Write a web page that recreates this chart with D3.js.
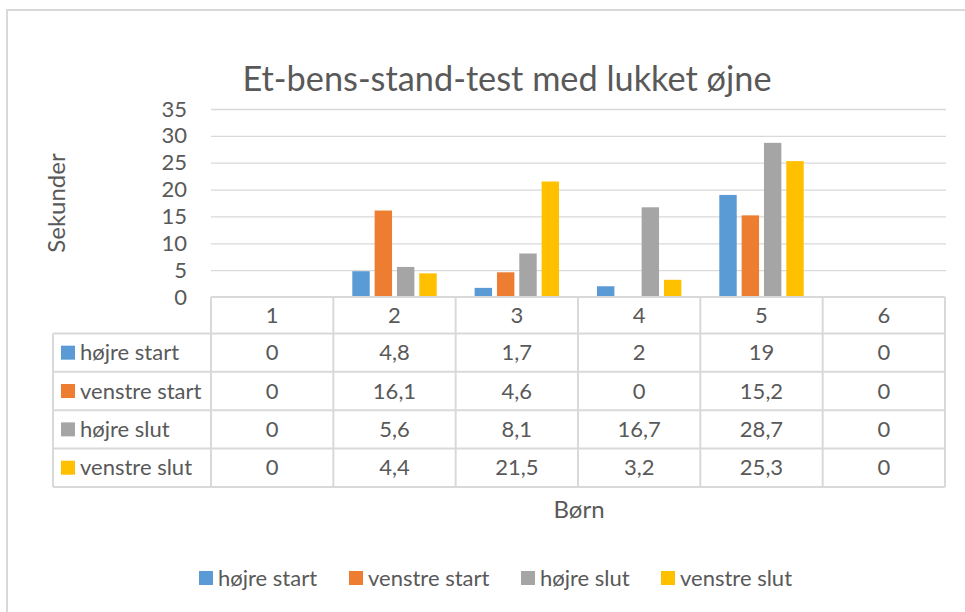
<!DOCTYPE html>
<html>
<head>
<meta charset="utf-8">
<script src="https://cdn.jsdelivr.net/npm/d3@7"></script>
<style>
  body { margin: 0; background: #fff; }
  svg text { font-family: Lato, "Open Sans", sans-serif; fill: #595959; }
</style>
</head>
<body>
<div id="chart"></div>
<script>
const categories = ["1", "2", "3", "4", "5", "6"];
const seriesNames = ["højre start", "venstre start", "højre slut", "venstre slut"];
const hojreStart = [0, 4.8, 1.7, 2, 19, 0];
const venstreStart = [0, 16.1, 4.6, 0, 15.2, 0];
const hojreSlut = [0, 5.6, 8.1, 16.7, 28.7, 0];
const venstreSlut = [0, 4.4, 21.5, 3.2, 25.3, 0];
const yTicks = [0, 5, 10, 15, 20, 25, 30, 35];
const colors = ["#5B9BD5", "#ED7D31", "#A5A5A5", "#FFC000"];

const series = [hojreStart, venstreStart, hojreSlut, venstreSlut].map((vals, i) => ({
  name: seriesNames[i],
  color: colors[i],
  values: vals
}));

const fmt = (n) => String(n).replace(".", ",");

const width = 965;
const height = 612;
const plot = { left: 211, right: 945, top: 109, bottom: 297 };
const headerH = 36.5;
const rowH = 38.35;
const tableLeft = 53;
const lineColor = "#d9d9d9";
const fs = 22;

const svg = d3.select("#chart").append("svg")
  .attr("width", width)
  .attr("height", height);

// chart border (cut off at right/bottom like the screenshot)
svg.append("rect")
  .attr("x", 7).attr("y", 10)
  .attr("width", 1100).attr("height", 800)
  .attr("fill", "none")
  .attr("stroke", lineColor)
  .attr("stroke-width", 2);

const x0 = d3.scaleBand()
  .domain(categories)
  .range([plot.left, plot.right])
  .paddingInner(0.31)
  .paddingOuter(0.155);

const cells = d3.scaleBand()
  .domain(categories)
  .range([plot.left, plot.right]);

const x1 = d3.scaleBand()
  .domain(seriesNames)
  .range([0, x0.bandwidth()])
  .paddingInner(0.22);

const y = d3.scaleLinear()
  .domain([0, 35])
  .range([plot.bottom, plot.top]);

// Gridlines
svg.append("g")
  .attr("transform", `translate(${plot.left},0)`)
  .call(d3.axisLeft(y).tickValues(yTicks.slice(1)).tickSize(-(plot.right - plot.left + 1)).tickFormat(""))
  .call(g => g.select(".domain").remove())
  .call(g => g.selectAll("line").attr("stroke", lineColor).attr("stroke-width", 1.3));

// Y tick labels
svg.append("g")
  .attr("transform", `translate(${plot.left},0)`)
  .call(d3.axisLeft(y).tickValues(yTicks).tickSize(0).tickPadding(24))
  .call(g => g.select(".domain").remove())
  .call(g => g.selectAll("text")
    .attr("font-size", fs)
    .attr("font-family", null)
    .attr("fill", null));

// Y title
svg.append("text")
  .attr("transform", `translate(65,203) rotate(-90)`)
  .attr("text-anchor", "middle")
  .attr("font-size", 24)
  .text("Sekunder");

// Title
svg.append("text")
  .attr("x", 507).attr("y", 91)
  .attr("text-anchor", "middle")
  .attr("font-size", 34.3)
  .text("Et-bens-stand-test med lukket øjne");

// Bars
const groups = svg.append("g")
  .selectAll("g")
  .data(series)
  .join("g")
  .attr("fill", d => d.color);

groups.selectAll("rect")
  .data(s => s.values.map((v, i) => ({ name: s.name, cat: categories[i], value: v })))
  .join("rect")
  .attr("x", d => x0(d.cat) + x1(d.name))
  .attr("width", x1.bandwidth())
  .attr("y", d => y(d.value))
  .attr("height", d => y(0) - y(d.value));

// Data table
const table = svg.append("g");
const tableTop = plot.bottom;
const rowsTop = tableTop + headerH;
const tableBottom = rowsTop + rowH * series.length;

table.append("g")
  .selectAll("text")
  .data(categories)
  .join("text")
  .attr("x", d => cells(d) + cells.bandwidth() / 2)
  .attr("y", tableTop + headerH / 2)
  .attr("dy", "0.35em")
  .attr("text-anchor", "middle")
  .attr("font-size", fs)
  .text(d => d);

const rows = table.append("g")
  .selectAll("g")
  .data(series)
  .join("g")
  .attr("transform", (d, i) => `translate(0,${rowsTop + rowH * i})`);

rows.append("rect")
  .attr("x", tableLeft + 8).attr("y", rowH / 2 - 7)
  .attr("width", 14).attr("height", 14)
  .attr("fill", d => d.color);

rows.append("text")
  .attr("x", tableLeft + 27)
  .attr("y", rowH / 2)
  .attr("dy", "0.35em")
  .attr("font-size", fs)
  .text(d => d.name);

rows.selectAll("text.val")
  .data(d => d.values.map((v, i) => ({ cat: categories[i], value: v })))
  .join("text")
  .attr("class", "val")
  .attr("x", d => cells(d.cat) + cells.bandwidth() / 2)
  .attr("y", rowH / 2)
  .attr("dy", "0.35em")
  .attr("text-anchor", "middle")
  .attr("font-size", fs)
  .text(d => fmt(d.value));

// table grid lines
const hLines = [tableTop, ...series.map((s, i) => rowsTop + rowH * i), tableBottom];
table.append("g")
  .selectAll("line")
  .data(hLines)
  .join("line")
  .attr("x1", (d, i) => i === 0 ? plot.left : tableLeft)
  .attr("x2", plot.right)
  .attr("y1", d => d).attr("y2", d => d)
  .attr("stroke", lineColor).attr("stroke-width", 2);

const vLines = [...categories.map(c => cells(c)), plot.right];
table.append("g")
  .selectAll("line")
  .data(vLines)
  .join("line")
  .attr("x1", d => d).attr("x2", d => d)
  .attr("y1", tableTop).attr("y2", tableBottom)
  .attr("stroke", lineColor).attr("stroke-width", 2);

table.append("line")
  .attr("x1", tableLeft).attr("x2", tableLeft)
  .attr("y1", rowsTop).attr("y2", tableBottom)
  .attr("stroke", lineColor).attr("stroke-width", 2);

// X title
svg.append("text")
  .attr("x", 579).attr("y", 510)
  .attr("dy", "0.35em")
  .attr("text-anchor", "middle")
  .attr("font-size", 24)
  .text("Børn");

// Legend
const legendX = [199, 349, 521, 661];
const legend = svg.append("g")
  .selectAll("g")
  .data(series)
  .join("g")
  .attr("transform", (d, i) => `translate(${legendX[i]},578)`);

legend.append("rect")
  .attr("y", -7).attr("width", 14).attr("height", 14)
  .attr("fill", d => d.color);

legend.append("text")
  .attr("x", 19).attr("dy", "0.35em")
  .attr("font-size", fs)
  .text(d => d.name);
</script>
</body>
</html>
